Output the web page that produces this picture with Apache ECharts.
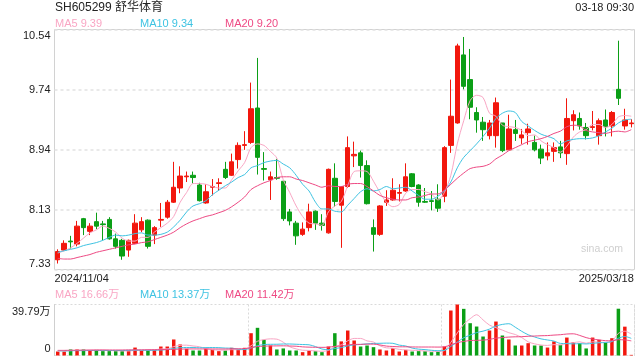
<!DOCTYPE html>
<html><head><meta charset="utf-8">
<script src="https://cdn.jsdelivr.net/npm/echarts@6/dist/echarts.min.js"></script>
<style>html,body{margin:0;padding:0;background:#fff}#c{width:640px;height:360px}</style>
</head><body><div id="c"></div>
<script>
const dates = ['2024/11/04','2024/11/05','2024/11/06','2024/11/07','2024/11/08','2024/11/11','2024/11/12','2024/11/13','2024/11/14','2024/11/15','2024/11/18','2024/11/19','2024/11/20','2024/11/21','2024/11/22','2024/11/25','2024/11/26','2024/11/27','2024/11/28','2024/11/29',
'2024/12/02','2024/12/03','2024/12/04','2024/12/05','2024/12/06','2024/12/09','2024/12/10','2024/12/11','2024/12/12','2024/12/13','2024/12/16','2024/12/17','2024/12/18','2024/12/19','2024/12/20','2024/12/23','2024/12/24','2024/12/25','2024/12/26','2024/12/27','2024/12/30','2024/12/31',
'2025/01/02','2025/01/03','2025/01/06','2025/01/07','2025/01/08','2025/01/09','2025/01/10','2025/01/13','2025/01/14','2025/01/15','2025/01/16','2025/01/17','2025/01/20','2025/01/21','2025/01/22','2025/01/23','2025/01/24','2025/01/27',
'2025/02/05','2025/02/06','2025/02/07','2025/02/10','2025/02/11','2025/02/12','2025/02/13','2025/02/14','2025/02/17','2025/02/18','2025/02/19','2025/02/20','2025/02/21','2025/02/24','2025/02/25','2025/02/26','2025/02/27','2025/02/28',
'2025/03/03','2025/03/04','2025/03/05','2025/03/06','2025/03/07','2025/03/10','2025/03/11','2025/03/12','2025/03/13','2025/03/14','2025/03/17','2025/03/18'];

const openP = [7.46,7.59,7.71,7.67,8.01,7.84,7.97,7.94,8.00,7.74,7.72,7.59,7.68,7.86,7.99,7.79,7.99,8.03,8.23,8.42,
8.57,8.59,8.46,8.22,8.43,8.48,8.67,8.59,8.80,8.99,9.03,9.49,8.68,8.53,8.56,8.51,8.10,7.95,7.80,7.89,
8.11,7.95,7.82,8.55,8.19,8.44,8.85,8.89,8.72,7.89,7.80,8.23,8.26,8.35,8.38,8.61,8.46,8.24,8.25,8.27,
8.31,8.99,9.29,10.20,9.87,9.43,9.30,9.12,9.12,9.29,8.93,9.20,9.09,9.16,9.03,8.94,8.85,8.91,8.97,8.88,
9.32,9.35,9.23,9.23,9.12,9.33,9.25,9.74,9.25,9.28];
const closeP = [7.57,7.68,7.70,7.91,7.89,7.91,7.91,7.93,7.74,7.64,7.51,7.72,7.95,7.97,7.64,7.89,8.00,8.23,8.43,8.58,
8.58,8.56,8.25,8.37,8.44,8.49,8.56,8.77,8.99,9.00,9.48,8.83,8.67,8.57,8.55,8.01,7.98,7.78,7.87,8.10,
7.95,7.92,8.67,8.24,8.44,8.96,8.87,8.72,8.21,7.80,8.18,8.26,8.39,8.36,8.57,8.44,8.23,8.23,8.24,8.15,
8.96,9.38,10.32,9.78,9.50,9.33,9.20,9.29,9.56,8.92,9.21,9.15,9.13,9.21,8.93,8.82,8.89,8.96,8.89,9.35,
9.40,9.25,9.12,9.24,9.32,9.24,9.43,9.62,9.33,9.29];
const lowP = [7.41,7.58,7.61,7.64,7.79,7.79,7.87,7.72,7.73,7.61,7.46,7.50,7.67,7.83,7.61,7.67,7.90,8.01,8.22,8.35,
8.50,8.48,8.24,8.21,8.32,8.38,8.54,8.58,8.68,8.93,9.01,8.60,8.52,8.26,8.53,7.98,7.92,7.66,7.78,7.84,
7.86,7.85,7.81,8.17,7.62,8.42,8.70,8.56,8.20,7.57,7.78,8.18,8.25,8.24,8.37,8.43,8.17,8.22,8.12,8.10,
8.23,8.89,9.28,9.74,9.34,9.16,9.05,9.07,8.96,8.90,8.93,9.05,9.01,9.00,8.91,8.74,8.79,8.77,8.82,8.73,
9.19,9.20,9.07,9.19,9.00,9.11,9.11,9.53,9.20,9.23];
const highP = [7.60,7.72,7.78,7.98,8.02,7.95,8.09,7.98,8.03,7.81,7.74,7.73,8.07,8.03,8.00,7.91,8.22,8.26,8.77,8.71,
8.64,8.64,8.49,8.47,8.54,8.55,8.77,8.88,9.03,9.18,9.83,10.16,8.90,8.64,8.81,8.52,8.14,7.98,7.96,8.21,
8.12,8.07,8.68,8.75,8.44,9.11,9.04,8.92,8.79,8.00,8.19,8.39,8.55,8.47,8.75,8.62,8.47,8.42,8.38,8.47,
8.98,9.87,10.35,10.44,10.28,9.50,9.37,9.33,9.63,9.29,9.40,9.33,9.21,9.28,9.12,9.00,9.03,9.03,9.05,9.62,
9.46,9.43,9.29,9.45,9.35,9.47,9.45,10.39,9.48,9.34];

const ma5 = [7.55,7.58,7.62,7.68,7.75,7.82,7.86,7.91,7.88,7.83,7.75,7.71,7.71,7.76,7.76,7.83,7.89,7.95,8.04,8.23,
8.36,8.48,8.48,8.47,8.44,8.42,8.42,8.53,8.65,8.76,8.96,9.01,8.99,8.91,8.82,8.53,8.36,8.18,8.04,7.95,
7.94,7.92,8.10,8.18,8.24,8.45,8.64,8.65,8.64,8.51,8.36,8.23,8.17,8.20,8.35,8.40,8.40,8.37,8.34,8.26,
8.36,8.59,9.01,9.32,9.59,9.66,9.63,9.42,9.38,9.26,9.24,9.23,9.19,9.12,9.13,9.05,9.00,8.96,8.90,8.98,
9.10,9.17,9.20,9.27,9.27,9.23,9.27,9.37,9.39,9.38];
const ma10 = [7.56,7.58,7.60,7.62,7.65,7.67,7.69,7.72,7.76,7.79,7.78,7.79,7.81,7.82,7.79,7.79,7.80,7.83,7.90,7.99,
8.10,8.18,8.21,8.25,8.33,8.39,8.45,8.50,8.56,8.60,8.69,8.72,8.76,8.78,8.79,8.74,8.69,8.59,8.47,8.38,
8.23,8.14,8.14,8.11,8.10,8.19,8.28,8.37,8.41,8.38,8.40,8.44,8.41,8.42,8.43,8.38,8.32,8.27,8.27,8.31,
8.38,8.50,8.69,8.83,8.92,9.01,9.11,9.22,9.35,9.42,9.45,9.43,9.31,9.25,9.19,9.14,9.11,9.08,9.01,9.05,
9.07,9.08,9.08,9.09,9.12,9.17,9.22,9.29,9.33,9.34];
const ma20 = [7.48,7.47,7.47,7.49,7.51,7.53,7.56,7.58,7.60,7.62,7.64,7.66,7.67,7.69,7.70,7.73,7.76,7.79,7.83,7.89,
7.94,7.98,8.01,8.04,8.06,8.09,8.12,8.17,8.23,8.30,8.40,8.45,8.49,8.52,8.56,8.57,8.57,8.54,8.52,8.49,
8.46,8.43,8.45,8.44,8.44,8.47,8.48,8.48,8.44,8.38,8.32,8.29,8.27,8.26,8.26,8.29,8.30,8.32,8.34,8.34,
8.39,8.47,8.55,8.62,8.68,8.70,8.71,8.74,8.81,8.86,8.92,8.96,9.00,9.04,9.06,9.08,9.11,9.15,9.18,9.24,
9.26,9.25,9.19,9.17,9.16,9.15,9.17,9.18,9.17,9.20];

const volume = [3.1,3.1,4.7,4.7,4.7,3.9,4.4,3.4,3.4,3.4,3.4,3.9,6.2,3.9,3.9,4.4,7.0,7.0,12.5,8.6,
5.2,3.9,3.9,5.2,4.4,3.4,3.9,6.0,4.7,6.0,17.4,21.6,12.2,7.8,4.7,5.5,3.9,3.9,2.6,3.9,
3.4,2.6,7.0,17.4,11.0,19.5,11.7,7.0,7.8,6.5,4.7,3.9,5.7,3.1,4.4,3.1,3.4,3.4,2.6,3.1,
7.0,35.1,39.79,36.4,25.2,22.6,14.8,19.5,26.5,15.6,12.5,7.8,7.8,9.6,7.8,7.8,6.2,11.0,8.3,14.0,
10.4,9.6,5.5,14.0,12.2,10.1,13.5,36.5,22.5,0.5];
const volMa5 = [3.6,3.5,3.8,4.0,4.06,4.22,4.48,4.22,3.96,3.70,3.60,3.50,4.06,4.16,4.26,4.46,5.08,5.24,6.96,7.90,
8.06,7.44,6.82,5.36,4.52,4.16,4.16,4.58,4.48,4.80,7.60,11.14,12.38,13.00,12.74,10.36,6.82,5.16,4.12,3.96,
3.54,3.28,3.90,6.86,8.28,11.50,13.32,13.32,11.40,10.50,7.54,5.98,5.72,4.78,4.36,4.04,3.94,3.48,3.38,3.12,
3.90,10.24,17.52,24.28,28.70,31.82,27.76,23.70,21.72,19.80,17.78,16.38,14.04,10.66,9.10,8.16,7.84,8.48,8.22,9.46,
9.98,10.66,9.56,10.70,10.34,10.28,11.06,17.26,18.96,16.66];
const volMa10 = [3.7,3.6,3.7,3.8,3.8,3.9,3.9,3.9,3.9,3.88,3.91,3.99,4.14,4.06,3.98,4.03,4.29,4.65,5.56,6.08,
6.26,6.26,6.03,6.16,6.21,6.11,5.80,5.70,4.92,4.66,5.88,7.65,8.48,8.74,8.77,8.98,8.98,8.77,8.56,8.35,
6.95,5.05,4.53,5.49,6.12,7.52,8.30,8.61,9.13,9.39,9.52,9.65,9.52,8.09,7.43,5.79,4.96,4.60,4.08,3.74,
3.97,7.09,10.50,13.83,15.91,17.86,19.00,20.61,23.00,24.25,24.80,22.07,18.87,16.19,14.45,12.97,12.11,11.26,9.44,9.28,
9.07,9.25,9.02,9.46,9.90,10.13,10.86,13.41,14.83,13.37];
const volMa20 = [4.0,4.0,4.1,4.1,4.2,4.2,4.2,4.3,4.3,4.3,4.3,4.4,4.4,4.4,4.5,4.5,4.6,4.7,4.8,4.98,
5.09,5.13,5.09,5.11,5.10,5.07,5.05,5.18,5.24,5.37,6.07,6.96,7.26,7.45,7.49,7.55,7.39,7.24,6.74,6.51,
6.42,6.35,6.51,7.12,7.45,8.25,8.64,8.69,8.85,8.87,8.24,7.35,7.03,6.79,6.78,6.66,6.63,6.61,6.61,6.57,
6.75,8.37,10.01,10.96,11.67,11.82,11.98,12.60,13.54,13.99,14.38,14.58,14.68,15.01,15.18,15.41,15.55,15.93,16.22,16.76,
16.93,15.66,13.95,12.83,12.18,11.55,11.49,12.34,12.14,11.42];

const priceMin = 7.33, priceMax = 10.54;
const priceTicks = ['7.33','8.13','8.94','9.74','10.54'];
const volMax = 39.79;
const volTicks = ['0','39.79万'];
const priceLegend = ['MA5 9.39','MA10 9.34','MA20 9.20'];
const volLegend = ['MA5 16.66万','MA10 13.37万','MA20 11.42万'];
const titleText = 'SH605299 舒华体育';
const timeText = '03-18 09:30';
const watermark = 'sina.com';

const RED = '#f2170d', GREEN = '#0b9f16';
const C5 = '#f9a6c4', C10 = '#3ec3e2', C20 = '#ee4a84';
const FONT = '"Liberation Sans","Noto Sans CJK SC",sans-serif';
const GL = 54.5, GW = 580;

const candleData = dates.map((d, i) => [openP[i], closeP[i], lowP[i], highP[i]]);
const volData = volume.map((v, i) => ({value: v, itemStyle: {color: closeP[i] >= openP[i] ? RED : GREEN}}));
const pInt = (priceMax - priceMin) / 4;

const chart = echarts.init(document.getElementById('c'), null, {renderer: 'canvas'});
function lineS(name, data, color, xi, yi) {
  return {name, type: 'line', data, xAxisIndex: xi, yAxisIndex: yi, symbol: 'none', smooth: 0.3,
    lineStyle: {color, width: 1}, itemStyle: {color}, silent: true, animation: false, z: 3};
}
function txt(text, left, top, size, color, extra) {
  return Object.assign({type: 'text', left, top, silent: true,
    style: {text, fill: color, font: size + 'px ' + FONT}}, extra || {});
}
chart.setOption({
  animation: false,
  backgroundColor: '#fff',
  grid: [
    {left: GL, top: 29.5, width: GW, height: 240, show: true, borderColor: '#d2d2d2', borderWidth: 1, backgroundColor: 'transparent'},
    {left: GL, top: 304.5, width: GW, height: 51, show: false}
  ],
  xAxis: [
    {type: 'category', gridIndex: 0, data: dates, boundaryGap: true,
     axisLine: {show: false}, axisTick: {show: false}, splitLine: {show: false},
     axisLabel: {show: true, margin: 4, color: '#222', fontSize: 11, fontFamily: FONT,
       interval: (i) => i === 0 || i === dates.length - 1,
       formatter: (v, i) => i === 0 ? '{l|' + v + '}' : '{r|' + v + '}',
       rich: {l: {padding: [0, 0, 0, 48], fontSize: 11, color: '#222', fontFamily: FONT},
              r: {padding: [0, 50, 0, 0], fontSize: 11, color: '#222', fontFamily: FONT}}}},
    {type: 'category', gridIndex: 1, data: dates, boundaryGap: true,
     axisLine: {show: false}, axisTick: {show: false}, axisLabel: {show: false},
     splitLine: {show: true, interval: (i) => i === 30 || i === 60, lineStyle: {color: '#dadada', type: [2, 2], width: 1}}}
  ],
  yAxis: [
    {type: 'value', gridIndex: 0, min: priceMin, max: priceMax, interval: pInt,
     axisLine: {show: false}, axisTick: {show: false},
     splitLine: {show: true, lineStyle: {color: '#e2e2e2', type: [3, 3], width: 1.5}},
     axisLabel: {margin: 4, color: '#222', fontSize: 11, fontFamily: FONT,
       formatter: (v) => {
         const i = Math.round((v - priceMin) / pInt);
         const t = priceTicks[i];
         if (i === 0) return '{b|' + t + '}';
         if (i === 4) return '{t|' + t + '}';
         return t;
       },
       rich: {t: {padding: [12, 0, 0, 0], fontSize: 11, color: '#222', fontFamily: FONT},
              b: {padding: [0, 0, 12, 0], fontSize: 11, color: '#222', fontFamily: FONT}}}},
    {type: 'value', gridIndex: 1, min: 0, max: volMax, interval: volMax,
     axisLine: {show: true, lineStyle: {color: '#cfcfcf', width: 1}}, axisTick: {show: false},
     splitLine: {show: true, lineStyle: {color: '#dadada', type: [2, 2], width: 1}},
     axisLabel: {margin: 4, color: '#222', fontSize: 11, fontFamily: FONT,
       formatter: (v) => v > 0 ? '{t|' + volTicks[1] + '}' : '{b|' + volTicks[0] + '}',
       rich: {t: {padding: [14, 0, 0, 0], fontSize: 11, color: '#222', fontFamily: FONT},
              b: {padding: [0, 0, 14, 0], fontSize: 11, color: '#222', fontFamily: FONT}}}},
    {type: 'value', gridIndex: 1, min: 0, max: volMax, position: 'right',
     axisLine: {show: true, lineStyle: {color: '#dadada', type: [2, 2], width: 1}},
     axisTick: {show: false}, axisLabel: {show: false}, splitLine: {show: false}}
  ],
  series: [
    {name: 'K', type: 'candlestick', data: candleData, xAxisIndex: 0, yAxisIndex: 0, barWidth: 5,
     itemStyle: {color: RED, color0: GREEN, borderColor: RED, borderColor0: GREEN, borderWidth: 1}, z: 2},
    lineS('MA5', ma5, C5, 0, 0),
    lineS('MA10', ma10, C10, 0, 0),
    lineS('MA20', ma20, C20, 0, 0),
    {name: 'VOL', type: 'bar', data: volData, xAxisIndex: 1, yAxisIndex: 1, barWidth: 3.5, z: 2},
    lineS('VMA5', volMa5, C5, 1, 1),
    lineS('VMA10', volMa10, C10, 1, 1),
    lineS('VMA20', volMa20, C20, 1, 1)
  ],
  graphic: [
    txt(titleText, 55, 2, 12, '#222'),
    txt(timeText, null, 2, 11, '#222', {right: 6}),
    txt(priceLegend[0], 55, 18, 11, C5),
    txt(priceLegend[1], 140, 18, 11, C10),
    txt(priceLegend[2], 225, 18, 11, C20),
    txt(volLegend[0], 55, 289, 11, C5),
    txt(volLegend[1], 140, 289, 11, C10),
    txt(volLegend[2], 225, 289, 11, C20),
    txt(watermark, null, 244, 10.5, '#cfcfcf', {right: 17})
  ]
});
</script></body></html>
